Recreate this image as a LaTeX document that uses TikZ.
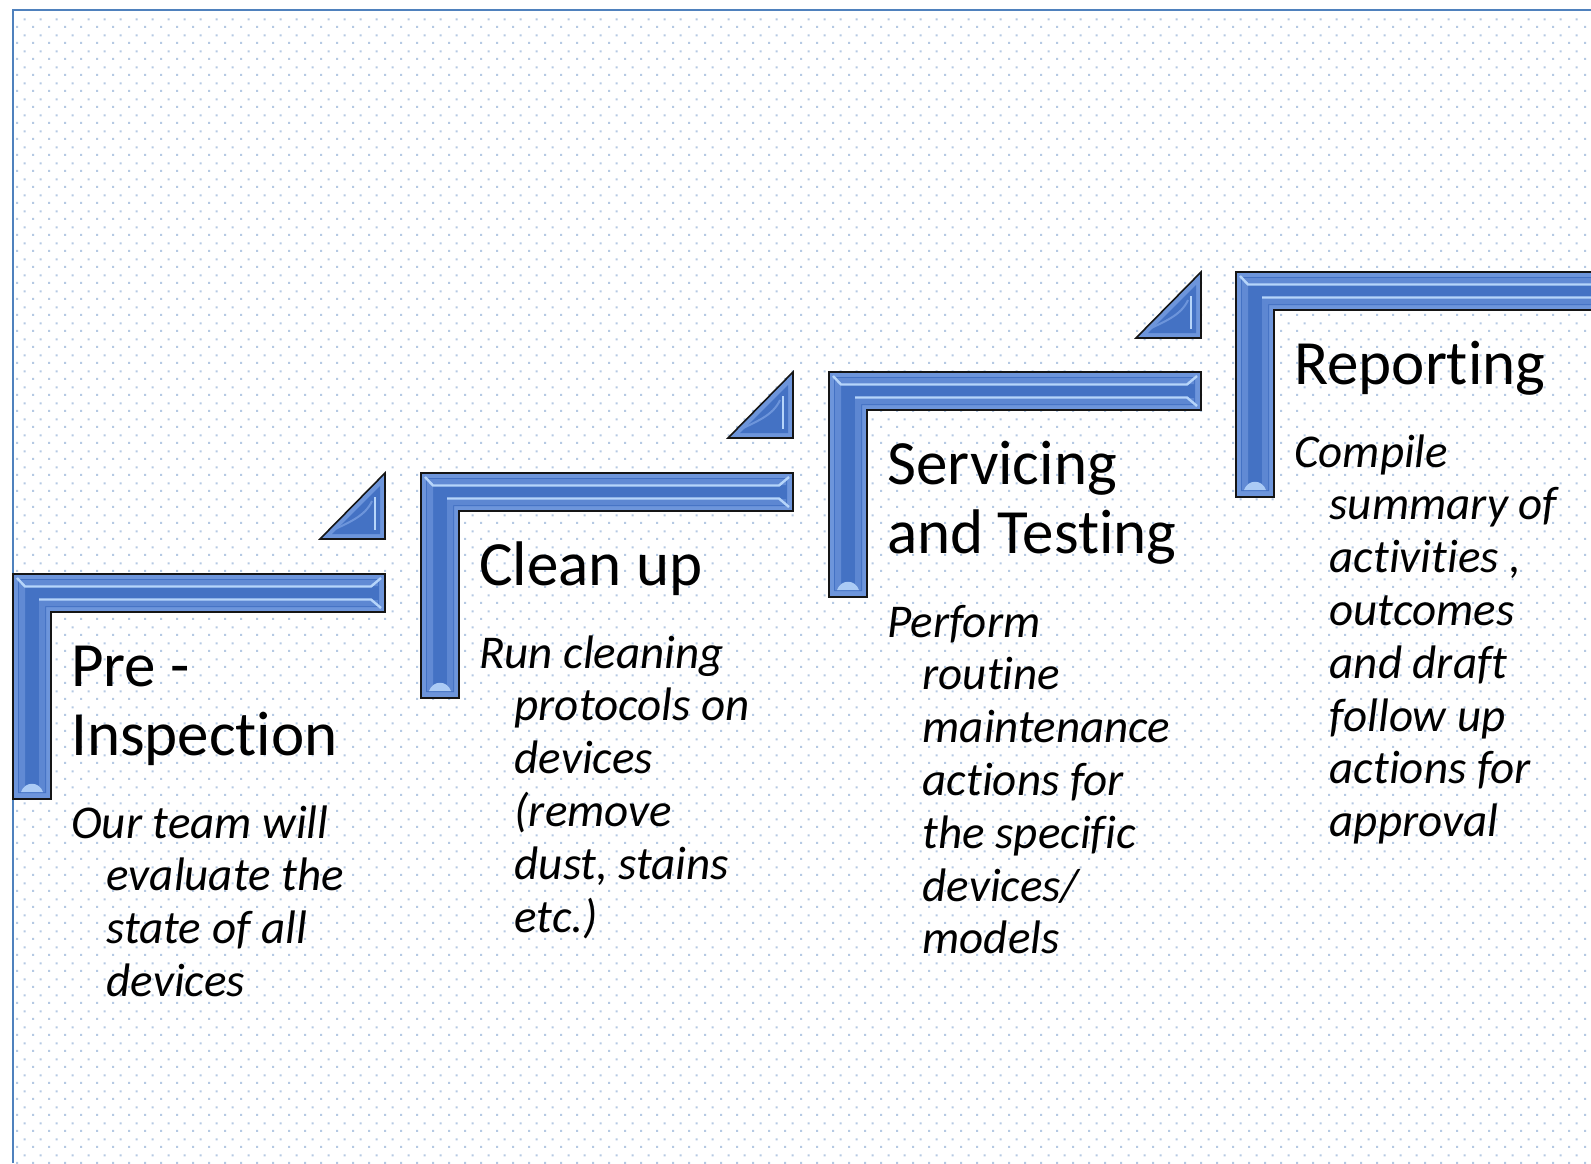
\documentclass[tikz,border=0pt]{standalone}
\usepackage{fontspec}
\setmainfont{Carlito}[Ligatures=NoCommon]
\usetikzlibrary{patterns}

\definecolor{framec}{HTML}{4F81BD}
\definecolor{dotc}{HTML}{B5C9E3}
\definecolor{barc}{HTML}{4472C4}
\definecolor{bevelc}{HTML}{6D95DB}
\definecolor{glossc}{HTML}{B6D5FA}
\definecolor{edgec}{HTML}{151515}

% staggered dot grid for the page background
\pgfdeclarepatternformonly{dotgrid}{\pgfpointorigin}{\pgfpoint{16pt}{16pt}}{\pgfpoint{16pt}{16pt}}{%
  \pgfpathrectangle{\pgfpoint{0pt}{0pt}}{\pgfpoint{2.2pt}{2.2pt}}%
  \pgfpathrectangle{\pgfpoint{8pt}{8pt}}{\pgfpoint{2.2pt}{2.2pt}}%
  \pgfusepath{fill}}

\tikzset{
  titletext/.style={anchor=base west, inner sep=0pt, text=black,
    font=\fontsize{63}{69.5}\selectfont},
  desctext/.style={anchor=base west, inner sep=0pt, text=black,
    font=\fontsize{47}{52.8}\selectfont\itshape},
  baredge/.style={draw=edgec, line width=1.6pt, line join=miter},
  gloss/.style={draw=glossc, line width=2.4pt},
}

% bevelled L-shaped stair step; #1 = left x, #2 = top y
\newcommand\stairbar[2]{%
  \fill[bevelc] (#1,#2) -- (#1+372,#2) -- (#1+372,#2+38) -- (#1+38,#2+38)
     -- (#1+38,#2+225) -- (#1,#2+225) -- cycle;
  \fill[barc] (#1+5,#2+5) -- (#1+366,#2+5) -- (#1+366,#2+33) -- (#1+33,#2+33)
     -- (#1+33,#2+219) -- (#1+5,#2+219) -- cycle;
  \fill[bevelc!70!barc] (#1+6,#2+6) -- (#1+365,#2+6) -- (#1+365,#2+12) -- (#1+12,#2+12)
     -- (#1+12,#2+218) -- (#1+6,#2+218) -- cycle;
  \fill[bevelc!60!barc] (#1+26,#2+26) -- (#1+365,#2+26) -- (#1+365,#2+32) -- (#1+32,#2+32)
     -- (#1+32,#2+218) -- (#1+26,#2+218) -- cycle;
  \draw[gloss] (#1+4,#2+4) -- (#1+12,#2+12.5) -- (#1+358,#2+12.5) -- (#1+368,#2+4);
  \draw[gloss] (#1+26,#2+25.5) -- (#1+358,#2+25.5) -- (#1+368,#2+34);
  \fill[glossc!85!bevelc] (#1+8,#2+218) .. controls (#1+12,#2+207) and (#1+26,#2+207)
     .. (#1+30,#2+218) -- cycle;
  \draw[baredge] (#1,#2) -- (#1+372,#2) -- (#1+372,#2+38) -- (#1+38,#2+38)
     -- (#1+38,#2+225) -- (#1,#2+225) -- cycle;
}

% bevelled right-angled triangle; #1 = right x, #2 = top y
\newcommand\stairtri[2]{%
  \fill[bevelc] (#1,#2) -- (#1,#2+66) -- (#1-65,#2+66) -- cycle;
  \fill[barc] (#1-5,#2+13) -- (#1-5,#2+61) -- (#1-53,#2+61) -- cycle;
  \draw[glossc, line width=2pt] (#1-10,#2+24) -- (#1-10,#2+57);
  \draw[bevelc, line width=2pt] (#1-56,#2+59) .. controls (#1-38,#2+50) and (#1-20,#2+44) .. (#1-13,#2+28);
  \draw[baredge] (#1,#2) -- (#1,#2+66) -- (#1-65,#2+66) -- cycle;
}

\begin{document}
\begin{tikzpicture}[x=1pt, y=-1pt]
  \useasboundingbox (0,0) rectangle (1591,1163);
  \fill[white] (0,0) rectangle (1591,1163);
  \begin{scope}
    \clip (0,0) rectangle (1591,1163);
    \fill[pattern=dotgrid, pattern color=dotc] (14,12) rectangle (1591,1163);
    \draw[framec, line width=2.2pt] (13,1163) -- (13,10) -- (1591,10);

    % stair steps
    \stairbar{13}{574}
    \stairbar{421}{473}
    \stairbar{829}{372}
    \stairbar{1236}{272}

    % small triangles at the end of each tread
    \stairtri{385}{473}
    \stairtri{793}{372}
    \stairtri{1201}{272}
  \end{scope}

  % step titles
  \node (title1) [titletext] at (71,686) {\parbox[t]{320pt}{Pre -\\Inspection}};
  \node (title2) [titletext] at (479,585) {\parbox[t]{320pt}{Clean up}};
  \node (title3) [titletext] at (887,484) {\parbox[t]{320pt}{Servicing\\and Testing}};
  \node (title4) [titletext] at (1294,384) {\parbox[t]{320pt}{Reporting}};

  % step descriptions
  \node (desc1) [desctext] at (71,838) {\parbox[t]{320pt}{\hangindent=35.5pt\hangafter=1
    Our team will\\evaluate the\\state of all\\devices}};
  \node (desc2) [desctext] at (479,668) {\parbox[t]{320pt}{\hangindent=35.5pt\hangafter=1
    Run cleaning\\protocols on\\devices\\(remove\\dust, stains\\etc.)}};
  \node (desc3) [desctext] at (887,637) {\parbox[t]{320pt}{\hangindent=35.5pt\hangafter=1
    Perform\\routine\\maintenance\\actions for\\the specific\\devices/\\models}};
  \node (desc4) [desctext] at (1294,467) {\parbox[t]{320pt}{\hangindent=35.5pt\hangafter=1
    Compile\\summary of\\activities ,\\outcomes\\and draft\\follow up\\actions for\\approval}};
\end{tikzpicture}
\end{document}
